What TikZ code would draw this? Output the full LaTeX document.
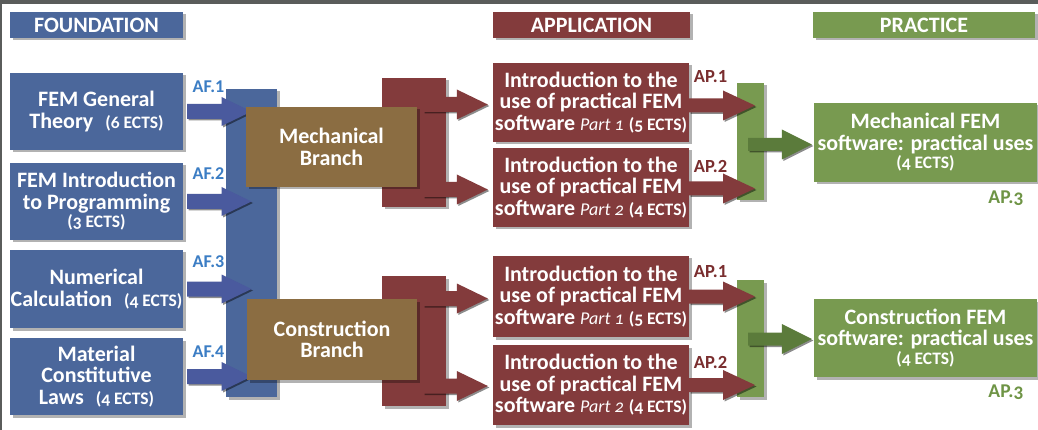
\documentclass[tikz,border=0pt]{standalone}
\usepackage{fontspec}
\setmainfont{Carlito}
\newfontfamily\osf{Carlito}[Numbers=OldStyle]
\usetikzlibrary{calc,shadows}
\definecolor{cblue}{HTML}{4B679B}
\definecolor{cbluearr}{HTML}{4A5A9E}
\definecolor{cbrown}{HTML}{8B6D42}
\definecolor{cred}{HTML}{833B3C}
\definecolor{cgreen}{HTML}{789A50}
\definecolor{cgreenarr}{HTML}{5B7B3B}
\definecolor{caf}{HTML}{3B7DC4}
\definecolor{cap}{HTML}{7A2E2F}
\definecolor{capg}{HTML}{6E9445}
\definecolor{cstrip}{HTML}{5A5C5B}
\newcommand\ects[1]{{\osf\fontsize{17.5}{17}\selectfont(#1 ECTS)}}
\newcommand\partx[1]{{\osf\mdseries\itshape\fontsize{18}{17}\selectfont Part #1}}
\newcommand\blockarrow[6]{%
  \fill[#1] let \p1=(#2), \p2=(#3) in
   (\x1,{\y1+#4}) -- ({\x2-#6},{\y1+#4}) -- ({\x2-#6},{\y1+#5}) -- (\x2,\y1)
   -- ({\x2-#6},{\y1-#5}) -- ({\x2-#6},{\y1-#4}) -- (\x1,{\y1-#4}) -- cycle;}
\begin{document}
\begin{tikzpicture}[x=1pt,y=-1pt,
  shd/.style={drop shadow={shadow xshift=2.5pt,shadow yshift=-2.5pt,fill=black,opacity=0.3}},
  ashd/.style={drop shadow={shadow xshift=1.5pt,shadow yshift=-1.5pt,fill=black,opacity=0.45}},
  box/.style={rectangle,inner sep=0pt,text=white,align=center,shd,
    font=\bfseries\fontsize{22}{21.5}\selectfont},
  bluebox/.style={box,fill=cblue},
  redbox/.style={box,fill=cred},
  brownbox/.style={box,fill=cbrown},
  greenbox/.style={box,fill=cgreen},
  header/.style={font=\bfseries\fontsize{22}{22}\selectfont,minimum height=26pt},
  barrowst/.style={cbluearr,ashd},
  rarrowst/.style={cred,ashd},
  garrowst/.style={cgreenarr,ashd},
  aflabel/.style={anchor=base,inner sep=0pt,text=caf,font=\bfseries\fontsize{18}{18}\selectfont},
  aplabel/.style={anchor=base,inner sep=0pt,text=cap,font=\bfseries\fontsize{18.5}{18}\selectfont},
  ap3label/.style={anchor=base,inner sep=0pt,text=capg,font=\osf\bfseries\fontsize{19.5}{18}\selectfont},
]
\useasboundingbox (0,0) rectangle (1038,430);
\fill[white] (0,0) rectangle (1038,430);
\fill[cstrip] (0,0) rectangle (1038,4);
\fill[cstrip] (0,0) rectangle (2,430);

% headers
\node[bluebox,header,minimum width=173pt] (hF) at (96.5,25) {FOUNDATION};
\node[redbox,header,minimum width=197pt] (hA) at (591.5,25) {APPLICATION};
\node[greenbox,header,minimum width=222pt] (hP) at (924,25) {PRACTICE};

% foundation boxes
\node[bluebox,minimum width=173pt,minimum height=77pt] (f1) at (96.5,111.5) {FEM General\\Theory\hspace{12pt}\ects{6}};
\node[bluebox,minimum width=173pt,minimum height=77pt] (f2) at (96.5,201.5) {FEM Introduction\\to Programming\\[-3pt]\ects{3}};
\node[bluebox,minimum width=173pt,minimum height=78pt] (f3) at (96.5,289) {Numerical\\Calculation\hspace{12pt}\ects{4}};
\node[bluebox,minimum width=173pt,minimum height=77pt] (f4) at (96.5,376.5) {Material\\Constitutive\\Laws\hspace{12pt}\ects{4}};

% blue bar
\node[bluebox,minimum width=51pt,minimum height=308pt] (bbar) at (251.5,243) {};
\blockarrow{barrowst}{$(f1.east)+(4pt,0)$}{f1.east -| bbar.center}{7.5pt}{14.5pt}{30pt}
\blockarrow{barrowst}{$(f2.east)+(4pt,0)$}{f2.east -| bbar.center}{7.5pt}{14.5pt}{30pt}
\blockarrow{barrowst}{$(f3.east)+(4pt,0)$}{f3.east -| bbar.center}{7.5pt}{14.5pt}{30pt}
\blockarrow{barrowst}{$(f4.east)+(4pt,0)$}{f4.east -| bbar.center}{7.5pt}{14.5pt}{30pt}

% red bars and branches
\node[redbox,minimum width=64pt,minimum height=129pt] (rbT) at (414,142.5) {};
\node[redbox,minimum width=64pt,minimum height=130pt] (rbB) at (414,341) {};
\node[brownbox,minimum width=171pt,minimum height=80pt] (mech) at (331.5,147) {Mechanical\\Branch};
\node[brownbox,minimum width=170pt,minimum height=81pt] (cons) at (332,339.5) {Construction\\Branch};

% application boxes
\node[redbox,minimum width=196pt,minimum height=79pt] (a1) at (591,102.5) {Introduction to the\\use of practical FEM\\software \partx{1} \ects{5}};
\node[redbox,minimum width=196pt,minimum height=79pt] (a2) at (591,187.5) {Introduction to the\\use of practical FEM\\software \partx{2} \ects{4}};
\node[redbox,minimum width=196pt,minimum height=81pt] (a3) at (591,296.5) {Introduction to the\\use of practical FEM\\software \partx{1} \ects{5}};
\node[redbox,minimum width=196pt,minimum height=80pt] (a4) at (591,385) {Introduction to the\\use of practical FEM\\software \partx{2} \ects{4}};

\blockarrow{rarrowst}{$(rbT.east |- a1.west)+(-23pt,-2pt)$}{$(a1.west)+(-5pt,0)$}{7.5pt}{15pt}{31pt}
\blockarrow{rarrowst}{$(rbT.east |- a2.west)+(-23pt,-2pt)$}{$(a2.west)+(-5pt,0)$}{7.5pt}{15pt}{31pt}
\blockarrow{rarrowst}{$(rbB.east |- a3.west)+(-23pt,-2pt)$}{$(a3.west)+(-5pt,0)$}{7.5pt}{15pt}{31pt}
\blockarrow{rarrowst}{$(rbB.east |- a4.west)+(-23pt,-1pt)$}{$(a4.west)+(-5pt,0)$}{7.5pt}{15pt}{31pt}

% green bars
\node[greenbox,minimum width=27pt,minimum height=117pt] (gbT) at (750.5,141.5) {};
\node[greenbox,minimum width=27pt,minimum height=117pt] (gbB) at (750.5,338.5) {};

\blockarrow{rarrowst}{$(a1.east)+(0,-3pt)$}{$(gbT.center |- a1.east)+(4.5pt,0)$}{7pt}{15pt}{32pt}
\blockarrow{rarrowst}{$(a2.east)+(0,-1pt)$}{$(gbT.center |- a2.east)+(4.5pt,0)$}{7pt}{15pt}{32pt}
\blockarrow{rarrowst}{a3.east}{$(gbB.center |- a3.east)+(4.5pt,0)$}{7pt}{15pt}{32pt}
\blockarrow{rarrowst}{a4.east}{$(gbB.center |- a4.east)+(4.5pt,0)$}{7pt}{15pt}{32pt}

% practice boxes
\node[greenbox,minimum width=223pt,minimum height=79pt] (p1) at (925.5,142.5) {Mechanical FEM\\software: practical uses\\[-3pt]\ects{4}};
\node[greenbox,minimum width=223pt,minimum height=78pt] (p2) at (925.5,338) {Construction FEM\\software: practical uses\\[-3pt]\ects{4}};

\blockarrow{garrowst}{$(gbT.center |- p1.west)+(-2.5pt,-2pt)$}{$(p1.west)+(-2pt,0)$}{6.5pt}{15pt}{30pt}
\blockarrow{garrowst}{$(gbB.center |- p2.west)+(-2.5pt,-1pt)$}{$(p2.west)+(-2pt,0)$}{6.5pt}{15pt}{30pt}

% labels
\node[aflabel] (af1) at (208.5,93) {AF.1};
\node[aflabel] (af2) at (208.5,180) {AF.2};
\node[aflabel] (af3) at (208.5,268) {AF.3};
\node[aflabel] (af4) at (208.5,357) {AF.4};
\node[aplabel] (ap1t) at (710.5,83) {AP.1};
\node[aplabel] (ap2t) at (710.5,173) {AP.2};
\node[aplabel] (ap1b) at (710.5,277) {AP.1};
\node[aplabel] (ap2b) at (710.5,368) {AP.2};
\node[ap3label] (ap3t) at (1006,204) {AP.3};
\node[ap3label] (ap3b) at (1006,397) {AP.3};
\end{tikzpicture}
\end{document}
